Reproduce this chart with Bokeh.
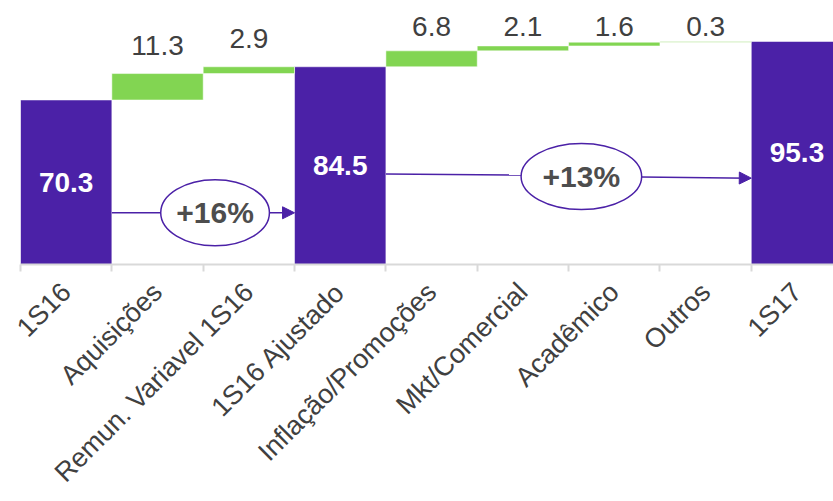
import numpy as np
from bokeh.plotting import figure
from bokeh.models import Range1d, FixedTicker, ColumnDataSource, Arrow, NormalHead
from bokeh.core.properties import value
from bokeh.embed import file_html
from bokeh.resources import INLINE

# ---- data ----
categories = ["1S16", "Aquisições", "Remun. Variavel 1S16", "1S16 Ajustado",
              "Inflação/Promoções", "Mkt/Comercial", "Acadêmico", "Outros", "1S17"]
values = [70.3, 11.3, 2.9, 84.5, 6.8, 2.1, 1.6, 0.3, 95.3]
is_total = [True, False, False, True, False, False, False, False, True]
growth_labels = ["+16%", "+13%"]

PURPLE = "#4B21A7"
GREEN = "#82D552"
TEXT = "#404040"
FONT = "Liberation Sans"

n = len(categories)
xs = np.arange(n) + 0.5
bottoms, tops = [], []
running = 0.0
for v, t in zip(values, is_total):
    if t:
        bottoms.append(0.0)
        tops.append(v)
        running = v
    else:
        bottoms.append(running)
        tops.append(running + v)
        running += v
bottoms = np.array(bottoms)
tops = np.array(tops)
tot = np.array(is_total)
labels = [f"{v:.1f}" for v in values]

src_tot = ColumnDataSource(dict(x=xs[tot], bottom=bottoms[tot], top=tops[tot],
                                mid=tops[tot] / 2, label=[l for l, t in zip(labels, is_total) if t]))
src_step = ColumnDataSource(dict(x=xs[~tot], bottom=bottoms[~tot], top=tops[~tot],
                                 ly=np.minimum(tops[~tot] + 12, 101.9),
                                 label=[l for l, t in zip(labels, is_total) if not t]))

p = figure(width=833, height=501, x_range=Range1d(0, 8.9), y_range=Range1d(0, 109.4),
           output_backend="svg", toolbar_location=None, y_axis_location=None,
           min_border_left=20, min_border_right=0, min_border_top=8, min_border_bottom=236)
p.outline_line_color = None
p.xgrid.visible = False
p.ygrid.visible = False
p.background_fill_color = "white"

p.vbar(x="x", width=1.0, bottom="bottom", top="top", source=src_tot,
       fill_color=PURPLE, line_color="white", line_alpha=0.5, line_width=1)
p.vbar(x="x", width=1.0, bottom="bottom", top="top", source=src_step,
       fill_color=GREEN, line_color="white", line_alpha=0.5, line_width=1)

p.text(x="x", y="ly", text="label", source=src_step, text_align="center",
       text_baseline="middle", text_font=value(FONT), text_font_size="28px",
       text_color=TEXT)
p.text(x="x", y="mid", text="label", source=src_tot, text_align="center",
       text_baseline="middle", text_font=value(FONT), text_font_size="28px",
       text_font_style="bold", text_color="white")

# growth annotations
ex = [2.13, 6.14]
ey = [22.1, 37.6]
ew = [1.19, 1.32]
p.segment(x0=[1.0, 4.0], y0=[22.1, 38.7], x1=[ex[0] - ew[0] / 2, ex[1] - ew[1] / 2],
          y1=[22.1, 38.2], line_color=PURPLE, line_width=1.5)
for xs_, ys_, xe_, ye_ in [(ex[0] + ew[0] / 2, 22.1, 3.0, 22.1),
                           (ex[1] + ew[1] / 2, 37.4, 8.0, 36.9)]:
    p.add_layout(Arrow(end=NormalHead(size=12, fill_color=PURPLE, line_color=PURPLE),
                       x_start=xs_, y_start=ys_, x_end=xe_, y_end=ye_,
                       line_color=PURPLE, line_width=1.5))
p.ellipse(x=ex, y=ey, width=ew, height=66, height_units="screen",
          fill_color="white", line_color=PURPLE, line_width=1.5)
p.text(x=ex, y=ey, text=growth_labels, text_align="center", text_baseline="middle",
       text_font=value(FONT), text_font_size="30px", text_font_style="bold",
       text_color="#4D4D4D")

ax = p.xaxis[0]
ax.ticker = FixedTicker(ticks=list(xs), minor_ticks=list(range(n + 1)))
ax.major_label_overrides = {float(x): c for x, c in zip(xs, categories)}
ax.major_tick_out = 0
ax.major_tick_in = 0
ax.minor_tick_out = 7
ax.minor_tick_in = 0
ax.minor_tick_line_color = "#D9D9D9"
ax.minor_tick_line_width = 2
ax.axis_line_color = "#D9D9D9"
ax.axis_line_width = 2
ax.major_label_orientation = np.pi / 4
ax.major_label_text_font = FONT
ax.major_label_text_font_size = "27px"
ax.major_label_text_color = TEXT
ax.major_label_standoff = 16

open("out.html", "w").write(file_html(p, INLINE))
